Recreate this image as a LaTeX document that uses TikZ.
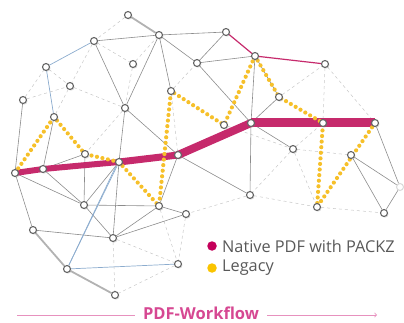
\documentclass[tikz,border=0pt]{standalone}
\usepackage{fontspec}
\newfontfamily\legendfont{Open Sans}
\usetikzlibrary{arrows,shadows,positioning}
\usepackage{xcolor}
\definecolor{packz}{RGB}{198,42,108}
\definecolor{packzdot}{RGB}{196,0,90}
\definecolor{legacy}{RGB}{246,192,42}
\definecolor{legacydot}{RGB}{250,196,0}
\definecolor{flowpink}{RGB}{214,72,146}
\definecolor{steel}{RGB}{140,172,206}
\pgfdeclarelayer{bg}
\pgfsetlayers{bg,main}

\begin{document}
\begin{tikzpicture}[x=1pt,y=-1pt,semithick]
  \tikzstyle{knot}=[circle,draw=black!60,line width=1.1pt,fill=white,inner sep=0pt,minimum size=7pt,
                    drop shadow={opacity=0.25,shadow xshift=1pt,shadow yshift=-1.2pt}]
  \tikzstyle{ghost}=[circle,draw=black!15,line width=1pt,fill=white,inner sep=0pt,minimum size=7pt]
  \tikzstyle{wire}=[draw=black!45,line width=0.6pt]
  \tikzstyle{heavy}=[draw=black!30,line width=1.8pt]
  \tikzstyle{faint}=[draw=black!22,dashed,line width=0.5pt]
  \tikzstyle{bluewire}=[draw=steel,line width=0.7pt]
  \tikzstyle{native}=[draw=packz,line cap=round,line join=round]
  \tikzstyle{legacypath}=[draw=legacy,line width=4.2pt,line cap=round,dash pattern=on 0pt off 5.6pt]
  \tikzstyle{legendtext}=[font=\legendfont\fontsize{16.3}{16.3}\selectfont,text=black!65,inner sep=0pt]

  \useasboundingbox (0,0) rectangle (404,323);

  % upper part
  \node[knot] (t1)  at (128,15)  {};
  \node[knot] (t2)  at (159,35)  {};
  \node[knot] (t3)  at (94,41)   {};
  \node[knot] (t4)  at (197,63)  {};
  \node[knot] (t5)  at (133,64)  {};
  \node[knot] (t6)  at (46,67)   {};
  \node[knot] (t7)  at (70,86)   {};
  \node[knot] (t8)  at (171,91)  {};
  \node[knot] (t9)  at (23,100)  {};
  \node[knot] (t10) at (125,108) {};
  \node[knot] (t11) at (54,117)  {};
  \node[knot] (t12) at (226,32)  {};
  \node[knot] (t13) at (255,56)  {};
  \node[knot] (t14) at (325,64)  {};
  \node[knot] (t15) at (279,97)  {};

  % middle
  \node[knot] (L) at (15,173)  {};
  \node[knot] (A) at (43,169)  {};
  \node[knot] (m1) at (85,154) {};
  \node[knot] (P) at (119,162) {};
  \node[knot] (Q) at (178,155) {};
  \node[knot] (K) at (224,125) {};
  \node[knot] (M) at (251,123) {};
  \node[knot] (N) at (323,123) {};
  \node[knot] (O) at (375,123) {};
  \node[knot] (V) at (293,149) {};
  \node[knot] (W) at (351,155) {};

  % lower part
  \node[knot] (B) at (84,205)  {};
  \node[knot] (C) at (159,206) {};
  \node[knot] (D) at (186,214) {};
  \node[knot] (E) at (33,230)  {};
  \node[knot] (F) at (113,238) {};
  \node[knot] (G) at (67,269)  {};
  \node[knot] (H) at (178,264) {};
  \node[knot] (I) at (115,295) {};
  \node[knot] (R) at (250,195) {};
  \node[knot] (S) at (317,207) {};
  \node[knot] (T) at (384,213) {};
  \node[ghost] (U) at (400,187) {};

  \begin{pgfonlayer}{bg}
    % background mesh
    \path (t1) edge[faint] (t3)  (t3) edge[faint] (t5)  (t5) edge[faint] (t2)
          (t5) edge[faint] (t10) (t6) edge[faint] (t7)  (t7) edge[faint] (t10)
          (t9) edge[faint] (t7)  (t9) edge[faint] (t6)  (t7) edge[faint] (t11)
          (t3) edge[faint] (t7)  (t8) edge[faint] (t4)  (t10) edge[faint] (m1)
          (t15) edge[faint] (t14) (t14) edge[faint] (N) (t14) edge[faint] (O)
          (V) edge[faint] (N)    (V) edge[faint] (W)    (V) edge[faint] (R)
          (V) edge[faint] (S)    (R) edge[faint] (D)    (R) edge[faint] (S)
          (S) edge[faint] (T)    (C) edge[faint] (H)    (F) edge[faint] (H)
          (F) edge[faint] (I)    (H) edge[faint] (I)    (D) edge[faint] (H)
          (t8) edge[faint] (Q)   (K) edge[faint] (V);

    % grey connections
    \path (t1) edge[heavy] (t2)
          (t2) edge[wire] (t3)   (t2) edge[wire] (t12)  (t2) edge[wire] (t4)
          (t2) edge[wire] (t10)  (t2) edge[wire] (t8)   (t4) edge[wire] (t12)
          (t4) edge[wire] (t13)  (t4) edge[wire] (M)    (t13) edge[wire] (M)
          (t13) edge[wire] (t15) (t15) edge[wire] (M)   (t3) edge[wire] (t10)
          (t10) edge[wire] (P)   (t10) edge[wire] (Q)   (t9) edge[wire] (L)
          (t11) edge[wire] (A)   (A) edge[wire] (m1)    (m1) edge[wire] (B)
          (L) edge[wire] (B)     (A) edge[wire] (B)     (B) edge[wire] (P)
          (B) edge[wire] (C)     (B) edge[wire] (F)     (P) edge[wire] (F)
          (E) edge[wire] (F)     (L) edge[wire] (E)     (F) edge[wire] (C)
          (F) edge[wire] (D)     (C) edge[wire] (D)     (Q) edge[wire] (C)
          (Q) edge[wire] (R)     (M) edge[wire] (R)     (M) edge[wire] (V)
          (W) edge[wire] (T)     (W) edge[wire] (U)     (U) edge[wire] (T)
          (O) edge[wire] (U)
          (E) edge[heavy] (G)    (G) edge[heavy] (I);
    \path (t3) edge[bluewire] (t6)  (t6) edge[bluewire] (t11)
          (P) edge[bluewire] (G)    (G) edge[bluewire] (H)
          ([xshift=-3pt]P.south) edge[bluewire] (G);

    % Native PDF with PACKZ
    \draw[native,line width=1.2pt] (t12.center) -- (t13.center) -- (t14.center);
    \draw[native,line width=6pt] (L.center) -- (A.center) -- (P.center);
    \draw[native,line width=7pt] (P.center) -- (Q.center);
    \draw[native,line width=8pt] (Q.center) -- (M.center);
    \draw[native,line width=9pt,line cap=butt] (M.center) -- (N.center) -- (O.center);

    % Legacy
    \draw[legacypath] (L.center) -- (t11.center) -- (m1.center) -- (P.center) -- (C.center)
          -- (t8.center) -- (K.center) -- (t13.center) -- (t15.center) -- (N.center)
          -- (S.center) -- (O.center);
  \end{pgfonlayer}

  % legend
  \node[circle,fill=packzdot,inner sep=0pt,minimum size=9.5pt] (ndot) at (212,246) {};
  \node[legendtext,right=5pt of ndot] (ntext) {Native PDF with PACKZ};
  \node[circle,fill=legacydot,inner sep=0pt,minimum size=9.5pt] (ldot) at (212,268) {};
  \node[legendtext,right=5pt of ldot] (ltext) {Legacy};

  % workflow arrow
  \node[font=\legendfont\bfseries\fontsize{16.5}{16.5}\selectfont,text=flowpink,anchor=base,
        inner xsep=8pt,inner ysep=0pt] (flow) at (201,319.5) {PDF-Workflow};
  \coordinate (fl) at (17,315);
  \coordinate (fr) at (377,315);
  \draw[flowpink!60,line width=0.8pt] (fl) -- (fl -| flow.west);
  \draw[flowpink!60,line width=0.8pt,->,>=to] (fl -| flow.east) -- (fr);
\end{tikzpicture}
\end{document}
